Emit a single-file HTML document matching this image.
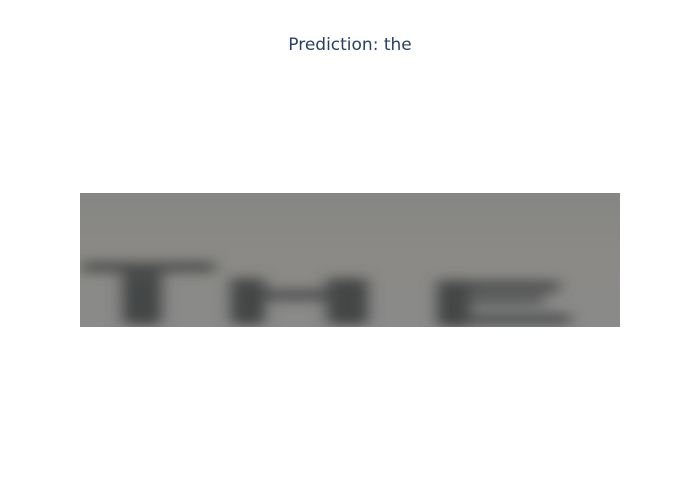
<!DOCTYPE html>
<html><head><meta charset="utf-8"><style>
html,body{margin:0;padding:0;background:#fff;}
#c{position:relative;width:700px;height:500px;font-family:"DejaVu Sans",sans-serif;}
</style></head><body>
<div id="c">
<svg width="700" height="500">
<defs>
<filter id="b" x="-20%" y="-60%" width="140%" height="220%"><feGaussianBlur stdDeviation="8 6"/></filter>
<filter id="b2" x="-50%" y="-50%" width="200%" height="200%"><feGaussianBlur stdDeviation="5"/></filter>
<clipPath id="cl"><rect x="80" y="193" width="540" height="134"/></clipPath>
<linearGradient id="g" x1="0" y1="0" x2="0" y2="1">
<stop offset="0" stop-color="#868684"/><stop offset="0.5" stop-color="#8b8a86"/><stop offset="1" stop-color="#8a8a8a"/>
</linearGradient>
</defs>
<text x="350" y="50" text-anchor="middle" font-size="17" fill="#2a3f5f">Prediction: the</text>
<g clip-path="url(#cl)">
<rect x="80" y="193" width="540" height="134" fill="url(#g)"/>
<g filter="url(#b)" fill="#4a4c4c">
<rect x="82" y="262" width="133" height="10"/>
<rect x="122" y="268" width="40" height="56"/>
<rect x="230" y="278" width="35" height="46"/>
<rect x="258" y="290" width="72" height="10"/>
<rect x="326" y="278" width="42" height="46"/>
<rect x="437" y="280" width="33" height="46"/>
<rect x="437" y="281" width="122" height="11"/>
<rect x="437" y="296" width="108" height="8"/>
<rect x="452" y="314" width="118" height="10"/>
</g>
<g filter="url(#b2)" fill="#3a3e3e" opacity="0.35">
<rect x="130" y="282" width="25" height="40"/>
<rect x="238" y="286" width="22" height="36"/>
<rect x="335" y="286" width="28" height="36"/>
<rect x="442" y="288" width="22" height="36"/>
</g>
</g>
</svg>
</div>
</body></html>
